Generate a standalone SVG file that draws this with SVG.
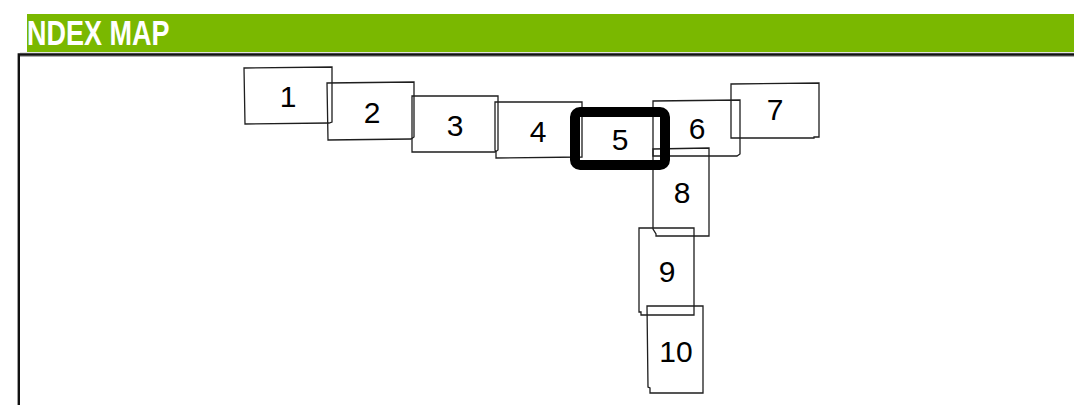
<svg xmlns="http://www.w3.org/2000/svg" width="1074" height="405" viewBox="0 0 1074 405">
<style>
.bx{fill:none;stroke:#1e1e1e;stroke-width:1.3;stroke-linejoin:miter}
.lb{font-family:"Liberation Sans",Arial,sans-serif;font-size:30px;fill:#000;text-anchor:middle}
.ttl{font-family:"Liberation Sans",Arial,sans-serif;font-weight:bold;font-size:35px;fill:#fff}
</style>
<defs>
<clipPath id="bannerClip"><rect x="27" y="14" width="1047" height="38"/></clipPath>
</defs>
<rect width="1074" height="405" fill="#fff"/>
<g id="banner">
<rect x="27" y="14" width="1047" height="38" fill="#7ab800"/>
<g clip-path="url(#bannerClip)">
<text class="ttl" x="19.5" y="45" textLength="150" lengthAdjust="spacingAndGlyphs">INDEX MAP</text>
</g>
</g>
<g id="frame">
<line x1="20" y1="52.8" x2="1074" y2="52.8" stroke="#d8d8d8" stroke-width="1"/>
<line x1="19" y1="56.2" x2="1074" y2="56.2" stroke="#888" stroke-width="1"/>
<path d="M18.8,405 V54.5 H1074" fill="none" stroke="#111" stroke-width="2.4"/>
</g>
<g id="connectors"></g>
<g id="node-1">
<path class="bx" d="M244,68 L332,67 L332,122 L329,123 L245,124 Z"/>
<text class="lb" x="288" y="107">1</text>
</g>
<g id="node-2">
<path class="bx" d="M327,83 L414,82 L414,137 L411,139 L328,140 Z"/>
<text class="lb" x="372" y="123">2</text>
</g>
<g id="node-3">
<path class="bx" d="M412,96 L498,96 L498,150 L495,152 L412,152 Z"/>
<text class="lb" x="455" y="136">3</text>
</g>
<g id="node-4">
<path class="bx" d="M495,102 L582,102 L582,157 L496,158 L496,152 L495,150 Z"/>
<text class="lb" x="538" y="142">4</text>
</g>
<g id="node-6">
<path class="bx" d="M653,101 L740,100 L740,154 L737,156 L653,156 Z"/>
<text class="lb" x="697" y="139">6</text>
</g>
<g id="node-7">
<path class="bx" d="M731,84 L819,83 L819,137 L814,137 L814,138 L731,138 Z"/>
<text class="lb" x="775" y="120">7</text>
</g>
<g id="node-8">
<path class="bx" d="M653,149 L709,148 L709,236 L656,236 L656,234 L653,229 Z"/>
<text class="lb" x="682" y="203">8</text>
</g>
<g id="node-9">
<path class="bx" d="M639,228 L694,228 L694,315 L641,315 L641,312 L639,312 Z"/>
<text class="lb" x="667" y="282">9</text>
</g>
<g id="node-10">
<path class="bx" d="M647,306 L703,306 L703,393 L650,393 L650,388 L648,387 Z"/>
<text class="lb" x="676" y="362">10</text>
</g>
<g id="node-5">
<rect x="575" y="112" width="90" height="53" rx="5" fill="none" stroke="#000" stroke-width="10"/>
<text class="lb" x="620" y="150">5</text>
</g>
</svg>
